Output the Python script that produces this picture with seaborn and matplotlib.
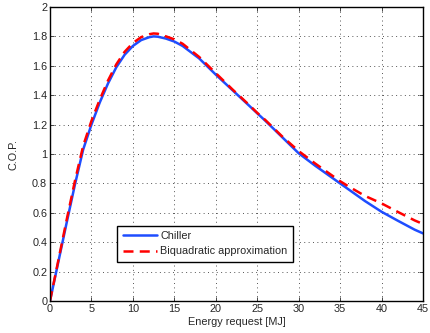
import matplotlib
matplotlib.use("Agg")
import matplotlib.pyplot as plt
import seaborn as sns
import pandas as pd

x_chiller = [0, 1, 2, 3, 4, 5, 6, 7, 8, 9, 10, 11, 12, 12.5, 13, 14, 15, 16, 18, 20, 22, 24, 25, 26, 28, 30, 32, 34, 35, 36, 38, 40, 42, 44, 45]
cop_chiller = [0, 0.265, 0.53, 0.79, 1.03, 1.20, 1.35, 1.48, 1.59, 1.675, 1.735, 1.775, 1.795, 1.80, 1.798, 1.785, 1.765, 1.735, 1.65, 1.54, 1.435, 1.33, 1.277, 1.225, 1.115, 1.005, 0.92, 0.84, 0.80, 0.76, 0.68, 0.607, 0.545, 0.485, 0.46]
x_approx = [0, 1, 2, 3, 4, 5, 6, 7, 8, 9, 10, 11, 12, 12.5, 13, 14, 15, 16, 18, 20, 22, 24, 25, 26, 28, 30, 32, 34, 35, 36, 38, 40, 42, 44, 45]
cop_approx = [0, 0.275, 0.55, 0.815, 1.055, 1.225, 1.37, 1.50, 1.61, 1.695, 1.755, 1.795, 1.815, 1.82, 1.818, 1.80, 1.78, 1.75, 1.66, 1.55, 1.44, 1.335, 1.28, 1.23, 1.12, 1.02, 0.935, 0.855, 0.815, 0.78, 0.715, 0.664, 0.605, 0.548, 0.524]
x_ticks = [0, 5, 10, 15, 20, 25, 30, 35, 40, 45]
y_ticks = [0, 0.2, 0.4, 0.6, 0.8, 1, 1.2, 1.4, 1.6, 1.8, 2]

sns.set_style("ticks")
plt.rcParams['font.family'] = ['Liberation Sans', 'DejaVu Sans']

fig = plt.figure(figsize=(4.31, 3.33), dpi=100)
ax = fig.add_axes([50/431, 32/333, 373/431, 294/333])

df1 = pd.DataFrame({"x": x_chiller, "y": cop_chiller})
df2 = pd.DataFrame({"x": x_approx, "y": cop_approx})
sns.lineplot(data=df1, x="x", y="y", ax=ax, color="#1e4dff", lw=1.8, label="Chiller")
sns.lineplot(data=df2, x="x", y="y", ax=ax, color="#ff0000", lw=1.8, label="Biquadratic approximation")
ax.lines[1].set_dashes([4, 2.5])

ax.set_xlim(0, 45)
ax.set_ylim(0, 2)
ax.set_xticks(x_ticks)
ax.set_yticks(y_ticks)
ax.set_yticklabels([f"{v:g}" for v in y_ticks])
ax.tick_params(direction="in", length=3, labelsize=7.8, top=True, right=True, width=0.6, pad=2)
ax.grid(True, linestyle=(0, (1, 3.5)), color="#555555", linewidth=0.7)
for s in ax.spines.values():
    s.set_linewidth(1.0)
    s.set_color("black")
ax.set_xlabel("Energy request [MJ]", fontsize=7.8, labelpad=2.5)
ax.set_ylabel("C.O.P.", fontsize=7.8, labelpad=10)

leg = ax.legend(loc="lower left", bbox_to_anchor=(0.18, 0.133), fontsize=7.8, frameon=True,
                fancybox=False, edgecolor="black", framealpha=1, borderpad=0.5,
                borderaxespad=0, handlelength=3.2, handletextpad=0.3, labelspacing=0.5)
leg.get_frame().set_linewidth(1.0)

fig.savefig("out.png", dpi=100)
